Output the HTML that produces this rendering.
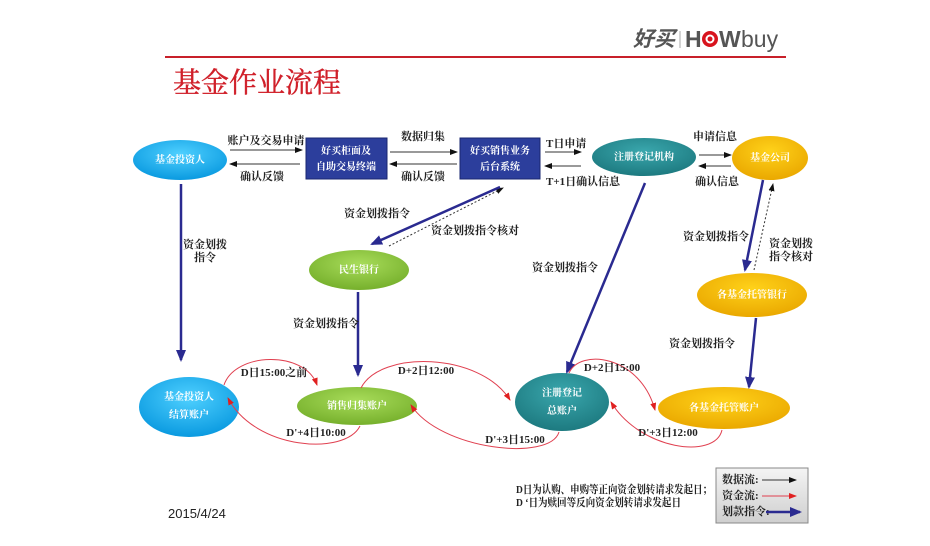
<!DOCTYPE html>
<html><head><meta charset="utf-8"><style>
body{margin:0;background:#fff;}
svg{display:block;font-family:"Liberation Serif","Noto Serif CJK SC","Noto Sans CJK SC",serif;}
.l{font-size:11px;font-weight:bold;fill:#222;}
.w{font-size:10px;fill:#fff;font-weight:bold;}
</style></head><body>
<svg width="930" height="546" viewBox="0 0 930 546" xmlns="http://www.w3.org/2000/svg">
<defs>
<marker id="ab" markerWidth="8" markerHeight="6" refX="7" refY="3" orient="auto" markerUnits="userSpaceOnUse"><path d="M0,0 L8,3 L0,6z" fill="#111"/></marker>
<marker id="ar" markerWidth="8" markerHeight="6" refX="7" refY="3" orient="auto" markerUnits="userSpaceOnUse"><path d="M0,0 L8,3 L0,6z" fill="#e02020"/></marker>
<marker id="an" markerWidth="12" markerHeight="10" refX="10" refY="5" orient="auto" markerUnits="userSpaceOnUse"><path d="M0,0 L12,5 L0,10z" fill="#2a2a90"/></marker>
<radialGradient id="gc" cx="50%" cy="35%" r="65%"><stop offset="0" stop-color="#4fd0ff"/><stop offset="1" stop-color="#0a9ae0"/></radialGradient>
<radialGradient id="gt" cx="50%" cy="35%" r="65%"><stop offset="0" stop-color="#3aa7ad"/><stop offset="1" stop-color="#1d7a80"/></radialGradient>
<radialGradient id="gy" cx="50%" cy="35%" r="65%"><stop offset="0" stop-color="#ffd21a"/><stop offset="1" stop-color="#eaa800"/></radialGradient>
<radialGradient id="gg" cx="50%" cy="35%" r="65%"><stop offset="0" stop-color="#a8dc5a"/><stop offset="1" stop-color="#76b02c"/></radialGradient>
<linearGradient id="lg" x1="0" y1="0" x2="0" y2="1"><stop offset="0" stop-color="#f4f4f4"/><stop offset="1" stop-color="#cfcfcf"/></linearGradient>
</defs>

<!-- header -->
<text x="633" y="46" font-family="Liberation Sans,Noto Sans CJK SC,sans-serif" font-size="21" font-style="italic" fill="#555" font-weight="bold">好买</text>
<line x1="680" y1="31" x2="680" y2="48" stroke="#aaa"/>
<text x="685" y="47" font-family="Liberation Sans,sans-serif" font-size="23" font-weight="bold" fill="#555">H</text>
<circle cx="710" cy="39" r="8" fill="#d8141e"/><circle cx="710" cy="39" r="4.5" fill="#fff"/><circle cx="710" cy="39" r="2.5" fill="#d8141e"/>
<text x="719" y="47" font-family="Liberation Sans,sans-serif" font-size="23" font-weight="bold" fill="#555">W</text>
<text x="741" y="47" font-family="Liberation Sans,sans-serif" font-size="23" fill="#555">buy</text>
<line x1="165" y1="57" x2="786" y2="57" stroke="#c8202a" stroke-width="2"/>
<text x="173" y="92" font-family="Liberation Serif,Noto Serif CJK SC,serif" font-size="28" fill="#d0202a" stroke="#d0202a" stroke-width="0.4">基金作业流程</text>

<!-- top nodes -->
<ellipse cx="180" cy="160" rx="47" ry="20" fill="url(#gc)"/>
<text class="w" x="180" y="163" text-anchor="middle">基金投资人</text>
<rect x="306" y="138" width="81" height="41" fill="#2c3e9c" stroke="#1a2770"/>
<text class="w" x="346" y="154" text-anchor="middle">好买柜面及</text>
<text class="w" x="346" y="170" text-anchor="middle">自助交易终端</text>
<rect x="460" y="138" width="80" height="41" fill="#2c3e9c" stroke="#1a2770"/>
<text class="w" x="500" y="154" text-anchor="middle">好买销售业务</text>
<text class="w" x="500" y="170" text-anchor="middle">后台系统</text>
<ellipse cx="644" cy="157" rx="52" ry="19" fill="url(#gt)"/>
<text class="w" x="644" y="160" text-anchor="middle">注册登记机构</text>
<ellipse cx="770" cy="158" rx="38" ry="22" fill="url(#gy)"/>
<text class="w" x="770" y="161" text-anchor="middle">基金公司</text>
<ellipse cx="359" cy="270" rx="50" ry="20" fill="url(#gg)"/>
<text class="w" x="359" y="273" text-anchor="middle">民生银行</text>
<ellipse cx="752" cy="295" rx="55" ry="22" fill="url(#gy)"/>
<text class="w" x="752" y="298" text-anchor="middle">各基金托管银行</text>

<!-- bottom nodes -->
<ellipse cx="189" cy="407" rx="50" ry="30" fill="url(#gc)"/>
<text class="w" x="189" y="400" text-anchor="middle">基金投资人</text>
<text class="w" x="189" y="418" text-anchor="middle">结算账户</text>
<ellipse cx="357" cy="406" rx="60" ry="19" fill="url(#gg)"/>
<text class="w" x="357" y="409" text-anchor="middle">销售归集账户</text>
<ellipse cx="562" cy="402" rx="47" ry="29" fill="url(#gt)"/>
<text class="w" x="562" y="396" text-anchor="middle">注册登记</text>
<text class="w" x="562" y="414" text-anchor="middle">总账户</text>
<ellipse cx="724" cy="408" rx="66" ry="21" fill="url(#gy)"/>
<text class="w" x="724" y="411" text-anchor="middle">各基金托管账户</text>

<!-- data flows -->
<g stroke="#333" stroke-width="1" fill="none">
<line x1="230" y1="150" x2="302" y2="150" marker-end="url(#ab)"/>
<line x1="300" y1="164" x2="230" y2="164" marker-end="url(#ab)"/>
<line x1="390" y1="152" x2="457" y2="152" marker-end="url(#ab)"/>
<line x1="457" y1="164" x2="390" y2="164" marker-end="url(#ab)"/>
<line x1="545" y1="152" x2="581" y2="152" marker-end="url(#ab)"/>
<line x1="581" y1="166" x2="545" y2="166" marker-end="url(#ab)"/>
<line x1="699" y1="155" x2="731" y2="155" marker-end="url(#ab)"/>
<line x1="731" y1="166" x2="699" y2="166" marker-end="url(#ab)"/>
<line x1="389" y1="246" x2="503" y2="188" stroke-dasharray="2,2" marker-end="url(#ab)"/>
<line x1="754" y1="270" x2="773" y2="184" stroke-dasharray="2,2" marker-end="url(#ab)"/>
</g>
<text class="l" x="266" y="144" text-anchor="middle">账户及交易申请</text>
<text class="l" x="262" y="180" text-anchor="middle">确认反馈</text>
<text class="l" x="423" y="140" text-anchor="middle">数据归集</text>
<text class="l" x="423" y="180" text-anchor="middle">确认反馈</text>
<text class="l" x="546" y="147" font-size="10">T日申请</text>
<text class="l" x="546" y="185" font-size="10">T+1日确认信息</text>
<text class="l" x="715" y="140" text-anchor="middle">申请信息</text>
<text class="l" x="717" y="185" text-anchor="middle">确认信息</text>

<!-- navy instructions -->
<g stroke="#2a2a90" stroke-width="2.5" fill="none">
<line x1="181" y1="184" x2="181" y2="360" marker-end="url(#an)"/>
<line x1="500" y1="187" x2="372" y2="244" marker-end="url(#an)"/>
<line x1="358" y1="292" x2="358" y2="375" marker-end="url(#an)"/>
<line x1="645" y1="183" x2="567" y2="372" marker-end="url(#an)"/>
<line x1="763" y1="180" x2="745" y2="270" marker-end="url(#an)"/>
<line x1="756" y1="318" x2="749" y2="387" marker-end="url(#an)"/>
</g>
<text class="l" x="205" y="248" text-anchor="middle">资金划拨</text>
<text class="l" x="205" y="261" text-anchor="middle">指令</text>
<text class="l" x="377" y="217" text-anchor="middle">资金划拨指令</text>
<text class="l" x="475" y="234" text-anchor="middle">资金划拨指令核对</text>
<text class="l" x="326" y="327" text-anchor="middle">资金划拨指令</text>
<text class="l" x="565" y="271" text-anchor="middle">资金划拨指令</text>
<text class="l" x="716" y="240" text-anchor="middle">资金划拨指令</text>
<text class="l" x="791" y="247" text-anchor="middle">资金划拨</text>
<text class="l" x="791" y="260" text-anchor="middle">指令核对</text>
<text class="l" x="702" y="347" text-anchor="middle">资金划拨指令</text>

<!-- red money flows -->
<g stroke="#e04050" stroke-width="1" fill="none">
<path d="M224,385 C235,352 305,350 317,385" marker-end="url(#ar)"/>
<path d="M360,426 C345,456 255,450 228,398" marker-end="url(#ar)"/>
<path d="M361,388 C380,350 480,352 510,400" marker-end="url(#ar)"/>
<path d="M559,432 C550,462 440,450 411,405" marker-end="url(#ar)"/>
<path d="M569,373 C580,348 640,355 655,410" marker-end="url(#ar)"/>
<path d="M722,430 C715,460 640,450 611,402" marker-end="url(#ar)"/>
</g>
<text class="l" x="274" y="376" text-anchor="middle" font-size="10">D日15:00之前</text>
<text class="l" x="316" y="436" text-anchor="middle" font-size="10">D'+4日10:00</text>
<text class="l" x="426" y="374" text-anchor="middle" font-size="10">D+2日12:00</text>
<text class="l" x="515" y="443" text-anchor="middle" font-size="10">D'+3日15:00</text>
<text class="l" x="612" y="371" text-anchor="middle" font-size="10">D+2日15:00</text>
<text class="l" x="668" y="436" text-anchor="middle" font-size="10">D'+3日12:00</text>

<!-- notes -->
<text class="l" x="516" y="493" font-size="9.5" textLength="196" lengthAdjust="spacingAndGlyphs">D日为认购、申购等正向资金划转请求发起日；</text>
<text class="l" x="516" y="506" font-size="9.5" textLength="165" lengthAdjust="spacingAndGlyphs">D ‘日为赎回等反向资金划转请求发起日</text>
<text x="168" y="518" font-family="Liberation Sans,sans-serif" font-size="13" fill="#222">2015/4/24</text>

<!-- legend -->
<rect x="716" y="468" width="92" height="55" fill="url(#lg)" stroke="#888"/>
<text class="l" x="722" y="483" font-size="10">数据流:</text>
<line x1="762" y1="480" x2="796" y2="480" stroke="#333" marker-end="url(#ab)"/>
<text class="l" x="722" y="499" font-size="10">资金流:</text>
<line x1="762" y1="496" x2="796" y2="496" stroke="#e04050" marker-end="url(#ar)"/>
<text class="l" x="722" y="515" font-size="10">划款指令:</text>
<line x1="766" y1="512" x2="800" y2="512" stroke="#2a2a90" stroke-width="2.5" marker-end="url(#an)"/>
</svg>
</body></html>
